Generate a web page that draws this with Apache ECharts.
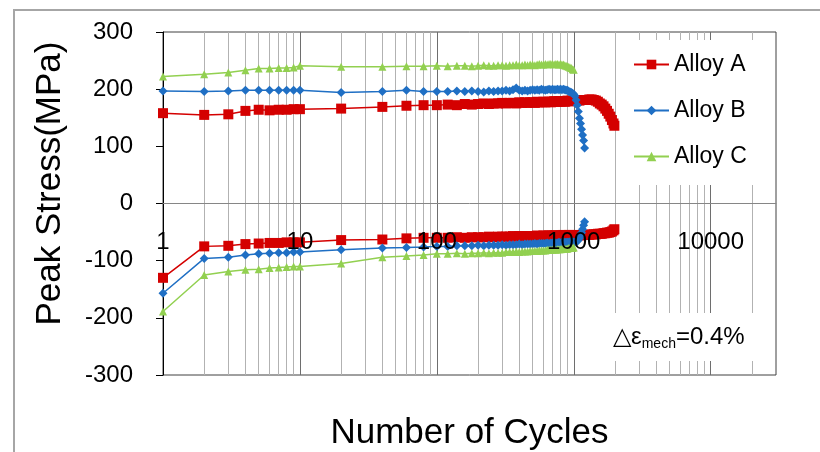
<!DOCTYPE html>
<html><head><meta charset="utf-8">
<script src="https://cdn.jsdelivr.net/npm/echarts@6/dist/echarts.min.js"></script>
<style>html,body{margin:0;padding:0;background:#fff}#c{width:820px;height:452px}</style>
</head><body><div id="c"></div><script>
// ---- data ----
const cycles = [1,2,3,4,5,6,7,8,9,10,20,40,60,80,
  100,120,140,160,180,200,220,240,260,280,
  300,320,340,360,380,400,420,440,460,480,
  500,520,540,560,580,600,620,640,660,680,
  700,720,740,760,780,800,820,840,860,880,
  900,920,940,960,980,1000];
const aExtCycles = [1050,1100,1150,1200,1250,1300,1350,1400,1450,1500,1550,1600,1650,1700,1750,1800,1850,1900,1950,1980];
const bExtCycles = [1020,1040,1060,1080,1100,1120,1140,1160,1180,1200];

const aTop = [158,155,156,162,164,163,164,164,165,165,166,169,171,172,
  172,173,172,174,173,174,175,174,175,175,
  176,175,176,176,175,177,176,177,176,177,
  177,176,178,177,177,178,177,178,178,177,
  178,179,178,178,179,178,179,179,178,179,
  180,179,179,180,179,180];
const aTopExt = [180,180,181,181,181,182,182,181,180,178,175,173,170,166,162,157,152,146,140,136];
const aBot = [-130,-75,-74,-71,-70,-69,-69,-68,-68,-68,-64,-63,-61,-60,
  -60,-60,-59,-60,-59,-59,-59,-58,-59,-58,
  -58,-58,-58,-57,-58,-57,-57,-58,-57,-57,
  -57,-57,-56,-57,-57,-56,-57,-56,-56,-57,
  -56,-56,-56,-57,-56,-56,-56,-55,-56,-56,
  -56,-55,-56,-56,-55,-56];
const aBotExt = [-56,-56,-55,-55,-55,-55,-54,-54,-54,-53,-53,-53,-52,-52,-51,-51,-50,-49,-47,-45];

const bTop = [197,196,197,198,198,198,198,198,198,198,194,196,198,196,
  196,196,197,196,197,196,195,197,196,197,
  197,198,197,199,202,198,197,198,197,198,
  199,198,199,198,200,199,198,199,200,199,
  200,199,199,200,199,200,199,200,199,198,
  198,196,195,194,193,191];
const bTopExt = [188,181,172,161,149,140,130,120,110,97];
const bBot = [-157,-96,-94,-90,-88,-87,-86,-86,-85,-85,-81,-78,-77,-76,
  -75,-75,-74,-74,-74,-73,-74,-73,-73,-73,
  -72,-73,-72,-72,-72,-71,-72,-71,-71,-71,
  -71,-70,-71,-70,-70,-70,-70,-69,-70,-69,
  -69,-69,-69,-69,-68,-69,-68,-68,-68,-68,
  -68,-68,-67,-68,-67,-68];
const bBotExt = [-68,-67,-66,-64,-61,-57,-51,-45,-38,-32];

const cTop = [222,226,229,233,236,236,237,237,238,241,239,239,240,240,
  241,240,241,241,240,241,242,241,241,242,
  242,241,242,242,243,242,242,243,242,243,
  243,242,243,244,243,243,244,243,244,244,
  244,243,244,244,243,244,243,243,242,241,
  240,239,238,237,235,234];
const cBot = [-189,-125,-119,-116,-115,-113,-112,-111,-110,-110,-105,-94,-92,-90,
  -88,-88,-87,-88,-87,-87,-86,-87,-86,-86,
  -86,-85,-85,-85,-84,-85,-84,-84,-84,-83,
  -83,-83,-83,-82,-82,-82,-82,-81,-81,-81,
  -81,-80,-81,-80,-80,-80,-79,-79,-79,-79,
  -79,-78,-78,-78,-78,-77];

const seriesNames = ['Alloy A','Alloy B','Alloy C'];
const yTicks = [-300,-200,-100,0,100,200,300];
const majorGrid = [10,100,1000,10000];
const minorGrid = [2,3,4,5,6,7,8,9,20,30,40,50,60,70,80,90,200,300,400,500,600,700,800,900,
  2000,3000,4000,5000,6000,7000,8000,9000,20000];

// ---- build ----
function pairs(xs, ys){ return xs.map((x,i)=>[x, ys[i]]); }
const FONT = '"Liberation Sans", Arial, sans-serif';
const colA = '#D40000', colB = '#1F6FC4', colC = '#92D050';

function mk(name, data, color, symbol, size){
  return {name, type:'line', data, symbol, symbolSize:size, showSymbol:true,
    itemStyle:{color}, lineStyle:{color, width:1.5}, z:3, animation:false};
}

const GRID_TOP = 32, GRID_BOTTOM_Y = 375;
const zeroOffset = -(GRID_BOTTOM_Y - (GRID_TOP + (GRID_BOTTOM_Y - GRID_TOP) / 2)); // x axis sits at y = 0

const chart = echarts.init(document.getElementById('c'));
chart.setOption({
  animation:false,
  backgroundColor:'#fff',
  grid:{left:163, right:44, top:GRID_TOP, bottom:452-GRID_BOTTOM_Y, outerBoundsMode:'none', containLabel:false,
    show:true, borderColor:'#404040', borderWidth:1, backgroundColor:'transparent'},
  legend:{data:seriesNames, orient:'vertical', left:627, top:40, padding:[13,25,17,6],
    backgroundColor:'#fff', itemGap:23, itemWidth:35, itemHeight:12, selectedMode:false,
    textStyle:{fontFamily:FONT, fontSize:23, color:'#000'}},
  xAxis:{type:'log', logBase:10, min:1, max:30000, z:4, position:'bottom', offset:zeroOffset,
    name:'Number of Cycles', nameLocation:'middle', nameGap:212,
    nameTextStyle:{fontFamily:FONT, fontSize:35, color:'#000'},
    axisLine:{onZero:false, lineStyle:{color:'#868686', width:1}},
    axisTick:{show:false},
    axisLabel:{margin:27, fontFamily:FONT, fontSize:24, color:'#000', showMaxLabel:false,
      formatter:v=>String(Math.round(v))},
    splitLine:{show:false}, minorTick:{show:false}},
  yAxis:{type:'value', min:yTicks[0], max:yTicks[yTicks.length-1], interval:100,
    name:'Peak Stress(MPa)', nameLocation:'middle', nameGap:95, nameRotate:90,
    nameTextStyle:{fontFamily:FONT, fontSize:35, color:'#000', padding:[0,0,0,40]},
    axisLine:{show:true, onZero:false, lineStyle:{color:'#000', width:1}},
    axisTick:{show:true, inside:false, length:7, lineStyle:{color:'#000'}},
    axisLabel:{margin:30, fontFamily:FONT, fontSize:24, color:'#000'},
    splitLine:{show:false}},
  graphic:[
    {type:'rect', z:0, silent:true, shape:{x:14, y:10, width:900, height:600},
      style:{fill:'none', stroke:'#a6a6a6', lineWidth:2}},
    {type:'rect', z:10, silent:true, shape:{x:605, y:313, width:168, height:48},
      style:{fill:'#fff'}},
    {type:'text', z:11, silent:true, x:613, y:337,
      style:{text:'{a|△ε}{b|mech}{a|=0.4%}', verticalAlign:'middle', fill:'#000',
        rich:{a:{fontFamily:FONT, fontSize:24, lineHeight:28, fill:'#000'},
              b:{fontFamily:FONT, fontSize:14, lineHeight:14, verticalAlign:'bottom', fill:'#000'}}}}
  ],
  series:[
    {type:'line', data:[], silent:true, z:1,
      markLine:{silent:true, symbol:'none', z:1, animation:false, label:{show:false},
        lineStyle:{color:'#b2b2b2', width:1, type:'solid'},
        data: minorGrid.map(v=>({xAxis:v})).concat(majorGrid.map(v=>({xAxis:v, lineStyle:{color:'#6e6e6e', width:1, type:'solid'}})))}},
    mk(seriesNames[0], pairs(cycles.concat(aExtCycles), aTop.concat(aTopExt)), colA, 'rect', 10),
    mk(seriesNames[0], pairs(cycles.concat(aExtCycles), aBot.concat(aBotExt)), colA, 'rect', 10),
    mk(seriesNames[1], pairs(cycles.concat(bExtCycles), bTop.concat(bTopExt)), colB, 'diamond', 9),
    mk(seriesNames[1], pairs(cycles.concat(bExtCycles), bBot.concat(bBotExt)), colB, 'diamond', 9),
    mk(seriesNames[2], pairs(cycles, cTop), colC, 'triangle', 8),
    mk(seriesNames[2], pairs(cycles, cBot), colC, 'triangle', 8)
  ]
});
</script></body></html>
